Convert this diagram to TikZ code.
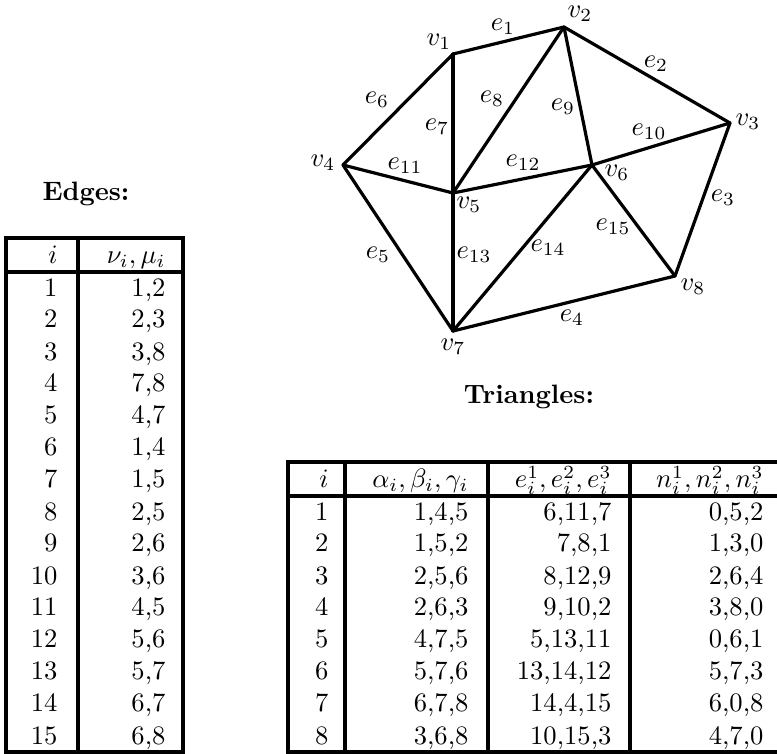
\documentclass[tikz,border=0pt]{standalone}
\usepackage{amsmath}

\begin{document}
\begin{tikzpicture}[
        x=0.376pt, y=-0.376pt,
        edge/.style={line width=1.2pt, line cap=round},
        rule/.style={line width=1.2pt},
        vlbl/.style={inner sep=0pt},
        elbl/.style={inner sep=0pt},
        title/.style={font=\bfseries, anchor=base},
        cell/.style={anchor=base east, inner sep=0pt}
    ]
        \useasboundingbox (0,0) rectangle (777,754);

        % ========================================================
        % MALLA: VERTICES Y ARISTAS
        % ========================================================
        \coordinate (v1) at (453,54);
        \coordinate (v2) at (564,27);
        \coordinate (v3) at (730,123);
        \coordinate (v4) at (343,165);
        \coordinate (v5) at (453,193);
        \coordinate (v6) at (592,165);
        \coordinate (v7) at (453,331);
        \coordinate (v8) at (675,276);

        \draw[edge] (v1) -- (v2);
        \draw[edge] (v2) -- (v3);
        \draw[edge] (v3) -- (v8);
        \draw[edge] (v7) -- (v8);
        \draw[edge] (v4) -- (v7);
        \draw[edge] (v1) -- (v4);
        \draw[edge] (v1) -- (v5);
        \draw[edge] (v2) -- (v5);
        \draw[edge] (v2) -- (v6);
        \draw[edge] (v3) -- (v6);
        \draw[edge] (v4) -- (v5);
        \draw[edge] (v5) -- (v6);
        \draw[edge] (v5) -- (v7);
        \draw[edge] (v6) -- (v7);
        \draw[edge] (v6) -- (v8);

        \node[vlbl] (lv1) at (439,42) {$v_1$};
        \node[vlbl] (lv2) at (580,14) {$v_2$};
        \node[vlbl] (lv3) at (748,122) {$v_3$};
        \node[vlbl] (lv4) at (323,163) {$v_4$};
        \node[vlbl] (lv5) at (469,205) {$v_5$};
        \node[vlbl] (lv6) at (617,173) {$v_6$};
        \node[vlbl] (lv7) at (453,347) {$v_7$};
        \node[vlbl] (lv8) at (693,287) {$v_8$};

        \node[elbl] (le1) at (503,27) {$e_1$};
        \node[elbl] (le2) at (656,64) {$e_2$};
        \node[elbl] (le3) at (723,198) {$e_3$};
        \node[elbl] (le4) at (572,318) {$e_4$};
        \node[elbl] (le5) at (378,255) {$e_5$};
        \node[elbl] (le6) at (377,100) {$e_6$};
        \node[elbl] (le7) at (437,127) {$e_7$};
        \node[elbl] (le8) at (492,99) {$e_8$};
        \node[elbl] (le9) at (563,107) {$e_9$};
        \node[elbl] (le10) at (649,132) {$e_{10}$};
        \node[elbl] (le11) at (405,166) {$e_{11}$};
        \node[elbl] (le12) at (523,163) {$e_{12}$};
        \node[elbl] (le13) at (474,255) {$e_{13}$};
        \node[elbl] (le14) at (548,248) {$e_{14}$};
        \node[elbl] (le15) at (613,227) {$e_{15}$};

        % ========================================================
        % TABLA DE ARISTAS
        % ========================================================
        \node[title] (tEdges) at (86,201) {Edges:};

        \draw[rule] (6,238) rectangle (183,752);
        \draw[rule] (78,238) -- (78,752);
        \draw[rule] (6,272) -- (183,272);

        \node[cell] (ehI) at (58,264) {$i$};
        \node[cell] (ehNu) at (166,264) {$\nu_i,\mu_i$};
        \foreach \k/\nm in {1/{1,2},2/{2,3},3/{3,8},4/{7,8},5/{4,7},6/{1,4},7/{1,5},8/{2,5},
                9/{2,6},10/{3,6},11/{4,5},12/{5,6},13/{5,7},14/{6,7},15/{6,8}}{
            \node[cell] (ei\k) at (58,{264+32*\k}) {\k};
            \node[cell] (en\k) at (166,{264+32*\k}) {\nm};
        }

        % ========================================================
        % TABLA DE TRIANGULOS
        % ========================================================
        \node[title] (tTri) at (529,404) {Triangles:};

        \draw[rule] (288,462) rectangle (781,752);
        \draw[rule] (345,462) -- (345,752);
        \draw[rule] (488,462) -- (488,752);
        \draw[rule] (630,462) -- (630,752);
        \draw[rule] (288,496) -- (781,496);

        \node[cell] (thI) at (329,488) {$i$};
        \node[cell] (thV) at (469,488) {$\alpha_i,\beta_i,\gamma_i$};
        \node[cell] (thE) at (612,488) {$e_i^1,e_i^2,e_i^3$};
        \node[cell] (thN) at (764,488) {$n_i^1,n_i^2,n_i^3$};
        \foreach \k/\va/\ea/\na in {1/{1,4,5}/{6,11,7}/{0,5,2},2/{1,5,2}/{7,8,1}/{1,3,0},
                3/{2,5,6}/{8,12,9}/{2,6,4},4/{2,6,3}/{9,10,2}/{3,8,0},
                5/{4,7,5}/{5,13,11}/{0,6,1},6/{5,7,6}/{13,14,12}/{5,7,3},
                7/{6,7,8}/{14,4,15}/{6,0,8},8/{3,6,8}/{10,15,3}/{4,7,0}}{
            \node[cell] (ti\k) at (329,{488+32*\k}) {\k};
            \node[cell] (tv\k) at (469,{488+32*\k}) {\va};
            \node[cell] (te\k) at (612,{488+32*\k}) {\ea};
            \node[cell] (tn\k) at (764,{488+32*\k}) {\na};
        }

    \end{tikzpicture}
\end{document}
